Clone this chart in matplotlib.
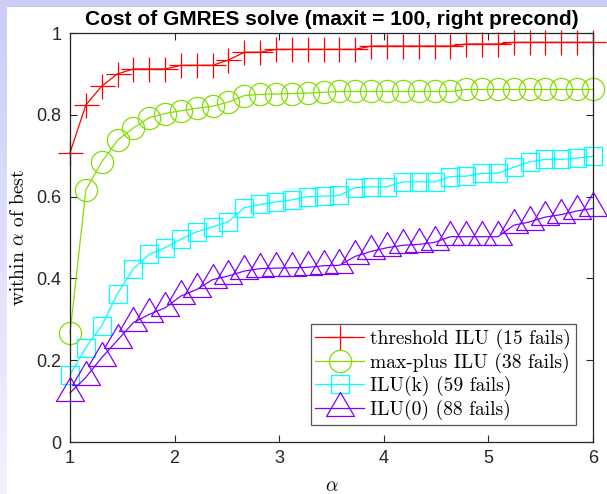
import numpy as np
import matplotlib
matplotlib.use('Agg')
import matplotlib.pyplot as plt

alpha = np.linspace(1, 6, 34)

thresh_ilu = [0.707, 0.824, 0.870, 0.900, 0.912, 0.912, 0.912, 0.921, 0.921, 0.921,
              0.934, 0.953, 0.953, 0.960, 0.960, 0.960, 0.960, 0.960, 0.960, 0.968,
              0.968, 0.968, 0.968, 0.968, 0.968, 0.973, 0.973, 0.973, 0.977, 0.977,
              0.977, 0.977, 0.977, 0.977]
maxplus_ilu = [0.266, 0.616, 0.685, 0.738, 0.768, 0.793, 0.803, 0.810, 0.816, 0.821,
               0.831, 0.847, 0.850, 0.851, 0.852, 0.853, 0.855, 0.857, 0.857, 0.857,
               0.857, 0.857, 0.857, 0.857, 0.857, 0.862, 0.862, 0.862, 0.862, 0.862,
               0.862, 0.862, 0.862, 0.862]
ilu_k = [0.164, 0.231, 0.284, 0.363, 0.424, 0.459, 0.475, 0.496, 0.514, 0.526,
         0.539, 0.573, 0.581, 0.587, 0.592, 0.600, 0.601, 0.603, 0.622, 0.624,
         0.624, 0.636, 0.636, 0.636, 0.649, 0.650, 0.657, 0.657, 0.672, 0.685,
         0.691, 0.691, 0.694, 0.699]
ilu_0 = [0.120, 0.158, 0.206, 0.249, 0.292, 0.312, 0.328, 0.357, 0.373, 0.397,
         0.406, 0.418, 0.424, 0.425, 0.426, 0.427, 0.431, 0.432, 0.454, 0.466,
         0.475, 0.481, 0.483, 0.488, 0.502, 0.502, 0.502, 0.502, 0.530, 0.538,
         0.550, 0.556, 0.565, 0.571]

labels = ['threshold ILU (15 fails)', 'max-plus ILU (38 fails)',
          'ILU(k) (59 fails)', 'ILU(0) (88 fails)']
colors = ['#ff0000', '#80e000', '#00ffff', '#8000ff']

# matlab style triangle, data point at the centroid
tri = [(0, 16), (-14, -8), (14, -8), (0, 16)]
markers = ['+', 'o', 's', tri]
msizes = [18, 16, 13.5, 23]

plt.rcParams['mathtext.fontset'] = 'cm'
plt.rcParams['font.family'] = ['Liberation Sans', 'DejaVu Sans']

fig = plt.figure(figsize=(6.07, 4.94), dpi=100)

# slide background: lavender strip at top and left
W, H = 607, 494
bg = np.ones((H, W, 3))
lav = np.array([0.80, 0.80, 0.97])
bg[:7, :, :] = lav
fade = np.linspace(0, 1, H)[:, None, None]
bg[:, :7, :] = lav + (np.array([0.95, 0.95, 1.0]) - lav) * fade
fig.figimage(bg, 0, 0, origin='upper', zorder=-10)

ax = fig.add_axes([70/607, 52/494, 523/607, 409/494])
ax.set_zorder(5)
ax.set_facecolor('white')

series = [thresh_ilu, maxplus_ilu, ilu_k, ilu_0]
for y, c, m, ms, lab in zip(series, colors, markers, msizes, labels):
    ax.plot(alpha, y, color=c, lw=0.9, marker=m, ms=ms, mew=0.9,
            mfc='none', label=lab, clip_on=False)

ax.set_xlim(1, 6)
ax.set_ylim(0, 1)
ax.set_xticks([1, 2, 3, 4, 5, 6])
ax.set_yticks([0, 0.2, 0.4, 0.6, 0.8, 1])
ax.set_yticklabels(['0', '0.2', '0.4', '0.6', '0.8', '1'])
ax.tick_params(direction='in', top=True, right=True, length=5, width=0.8,
               labelsize=13, colors='#262626', pad=6)
for s in ax.spines.values():
    s.set_color('#262626')
    s.set_linewidth(0.9)

ax.set_title('Cost of GMRES solve (maxit = 100, right precond)',
             fontsize=15, fontweight='bold', pad=6)
ax.set_xlabel(r'$\alpha$', fontsize=14, labelpad=8)
ax.set_ylabel(r'within $\alpha$ of best', fontsize=14, family='cmr10', labelpad=6)

leg = ax.legend(loc='lower right', prop={'family': 'cmr10', 'size': 14},
                fancybox=False, edgecolor='#555555', framealpha=1,
                handlelength=2.5, handletextpad=0.3, labelspacing=0.17,
                borderaxespad=0.9, borderpad=0.25)
leg.get_frame().set_linewidth(0.9)

fig.savefig('out.png', dpi=100)
